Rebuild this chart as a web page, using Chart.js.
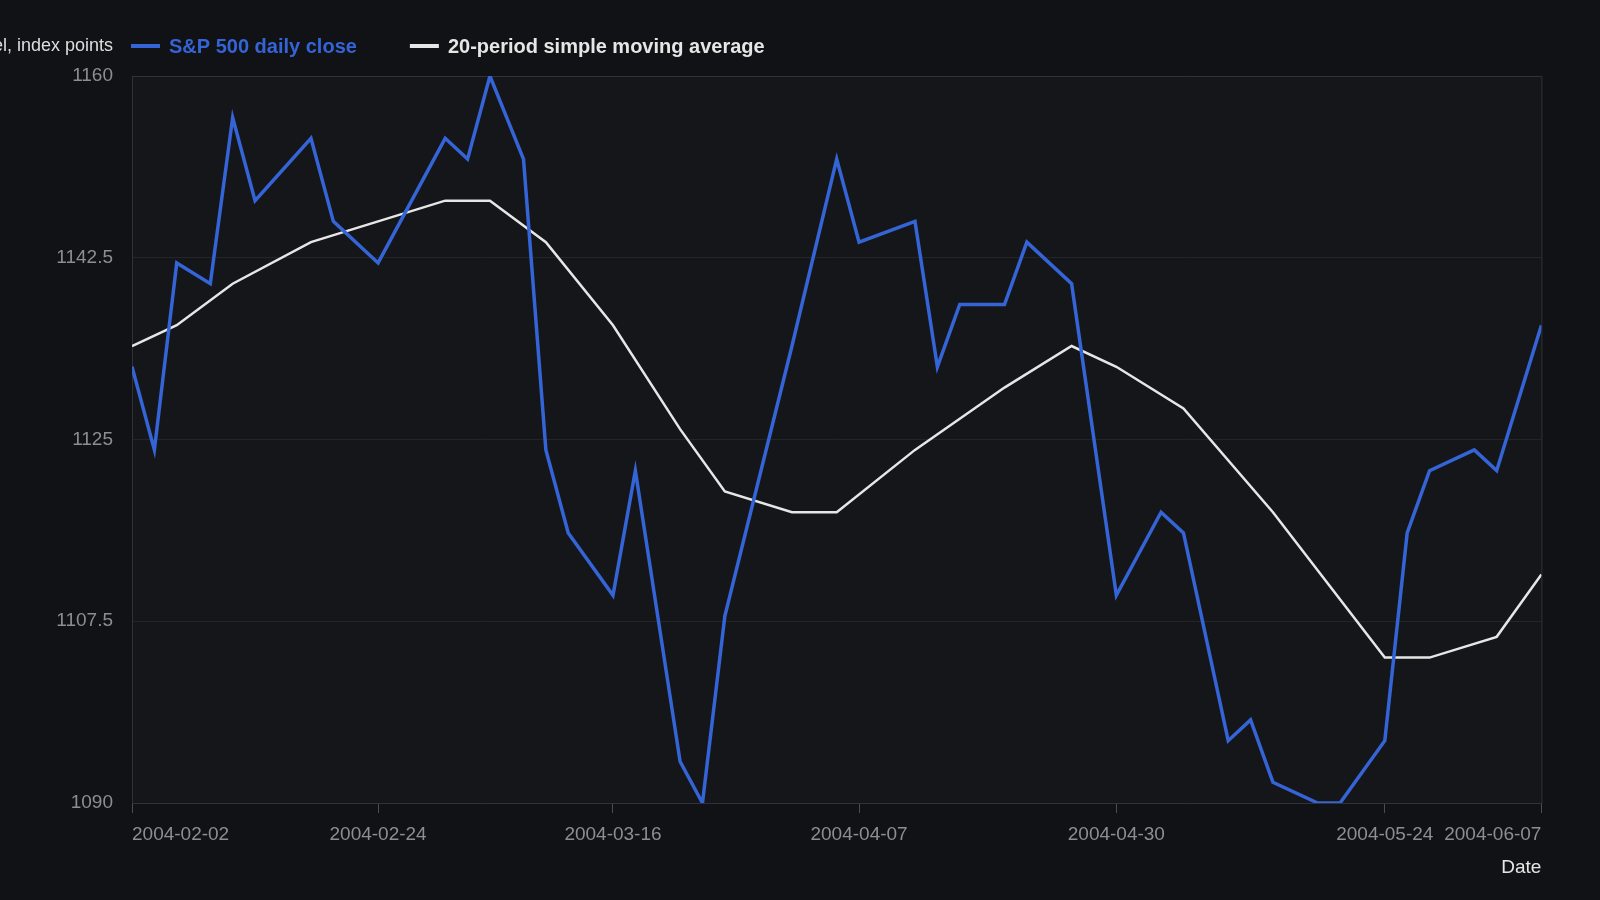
<!DOCTYPE html>
<html>
<head>
<meta charset="utf-8">
<style>
  html, body { margin: 0; padding: 0; background: #111215; }
  #wrap { width: 1600px; height: 900px; position: relative; }
</style>
<script src="https://cdn.jsdelivr.net/npm/chart.js@4.4.1/dist/chart.umd.min.js"></script>
</head>
<body>
<div id="wrap"><canvas id="c" width="1600" height="900"></canvas></div>
<script>
// ---- data ----
const closeDates = [
  '2004-02-02','2004-02-04','2004-02-06','2004-02-09','2004-02-11','2004-02-13',
  '2004-02-18','2004-02-20','2004-02-24','2004-03-01','2004-03-03','2004-03-05',
  '2004-03-08','2004-03-10','2004-03-12','2004-03-16','2004-03-18','2004-03-22',
  '2004-03-24','2004-03-26','2004-04-01','2004-04-05','2004-04-07','2004-04-12',
  '2004-04-14','2004-04-16','2004-04-20','2004-04-22','2004-04-26','2004-04-30',
  '2004-05-04','2004-05-06','2004-05-10','2004-05-12','2004-05-14','2004-05-18',
  '2004-05-20','2004-05-24','2004-05-26','2004-05-28','2004-06-01','2004-06-03',
  '2004-06-07'
];
const closeValues = [
  1132, 1124, 1142, 1140, 1156, 1148,
  1154, 1146, 1142, 1154, 1152, 1160,
  1152, 1124, 1116, 1110, 1122, 1094,
  1090, 1108, 1134, 1152, 1144, 1146,
  1132, 1138, 1138, 1144, 1140, 1110,
  1118, 1116, 1096, 1098, 1092, 1090,
  1090, 1096, 1116, 1122, 1124, 1122,
  1136
];
const smaDates = [
  '2004-02-02','2004-02-06','2004-02-11','2004-02-18','2004-02-24','2004-03-01',
  '2004-03-05','2004-03-10','2004-03-16','2004-03-22','2004-03-26','2004-04-01',
  '2004-04-05','2004-04-12','2004-04-20','2004-04-26','2004-04-30','2004-05-06',
  '2004-05-14','2004-05-24','2004-05-28','2004-06-03','2004-06-07'
];
const smaValues = [
  1134, 1136, 1140, 1144, 1146, 1148,
  1148, 1144, 1136, 1126, 1120, 1118,
  1118, 1124, 1130, 1134, 1132, 1128,
  1118, 1104, 1104, 1106, 1112
];
const xTickLabels = ['2004-02-02','2004-02-24','2004-03-16','2004-04-07','2004-04-30','2004-05-24','2004-06-07'];
const yTickValues = [1090, 1107.5, 1125, 1142.5, 1160];
const seriesNames = ['S&P 500 daily close', '20-period simple moving average'];
const yAxisTitle = 'S&P 500 level, index points';
const xAxisTitle = 'Date';

// ---- styling ----
const FONT = '"Liberation Sans", Arial, Helvetica, sans-serif';
const BG = '#111215';
const PLOT_BG = '#15161a';
const FRAME = '#303237';
const GRID = '#232529';
const TICK_TEXT = '#8b8e95';
const BLUE = '#3464d6';
const WHITE = '#e6e6e6';

const toXY = (dates, vals) => dates.map((d, i) => ({ x: Date.parse(d), y: vals[i] }));

const decorPlugin = {
  id: 'decor',
  beforeDraw(chart) {
    const { ctx, chartArea: a } = chart;
    ctx.save();
    ctx.fillStyle = BG;
    ctx.fillRect(0, 0, chart.width, chart.height);
    ctx.fillStyle = PLOT_BG;
    ctx.fillRect(a.left, a.top, a.right - a.left, a.bottom - a.top);
    ctx.restore();
    // first x label starts at its tick, last ends at its tick
    const items = chart.scales.x.getLabelItems();
    if (items.length) {
      const f = items[0], l = items[items.length - 1];
      if (f.options) f.options.textAlign = 'left'; else f.textAlign = 'left';
      if (l.options) l.options.textAlign = 'right'; else l.textAlign = 'right';
    }
  },
  beforeDatasetsDraw(chart) {
    const { ctx, chartArea: a } = chart;
    ctx.save();
    ctx.strokeStyle = FRAME;
    ctx.lineWidth = 1;
    ctx.beginPath();
    ctx.moveTo(a.left, a.top + 0.5);
    ctx.lineTo(a.right + 0.5, a.top + 0.5);
    ctx.lineTo(a.right + 0.5, a.bottom);
    ctx.stroke();
    ctx.restore();
  },
  afterDraw(chart) {
    const { ctx } = chart;
    ctx.save();
    // y axis title, placed top-left
    ctx.font = '18px ' + FONT;
    ctx.fillStyle = '#dedede';
    ctx.textAlign = 'right';
    ctx.textBaseline = 'alphabetic';
    ctx.fillText(yAxisTitle, 113, 51);
    // legend
    let x = 131;
    const y = 46;
    ctx.font = 'bold 20px ' + FONT;
    ctx.textAlign = 'left';
    chart.data.datasets.forEach((ds) => {
      ctx.strokeStyle = ds.borderColor;
      ctx.lineWidth = 4;
      ctx.beginPath();
      ctx.moveTo(x, y);
      ctx.lineTo(x + 29, y);
      ctx.stroke();
      ctx.fillStyle = ds.borderColor;
      ctx.fillText(ds.label, x + 38, 53);
      x += 38 + ctx.measureText(ds.label).width + 53;
    });
    ctx.restore();
  }
};

new Chart(document.getElementById('c'), {
  type: 'line',
  data: {
    datasets: [
      {
        label: seriesNames[0],
        data: toXY(closeDates, closeValues),
        borderColor: BLUE,
        borderWidth: 3.5,
        pointRadius: 0,
        tension: 0,
        borderJoinStyle: 'miter',
        fill: false
      },
      {
        label: seriesNames[1],
        data: toXY(smaDates, smaValues),
        borderColor: WHITE,
        borderWidth: 2.5,
        pointRadius: 0,
        tension: 0,
        borderJoinStyle: 'miter',
        fill: false
      }
    ]
  },
  options: {
    responsive: false,
    animation: false,
    devicePixelRatio: 1,
    layout: { padding: { top: 76, right: 56, bottom: 0, left: 0 } },
    plugins: {
      legend: { display: false },
      tooltip: { enabled: false }
    },
    scales: {
      x: {
        type: 'linear',
        min: Date.parse(closeDates[0]),
        max: Date.parse(closeDates[closeDates.length - 1]),
        afterBuildTicks: (s) => { s.ticks = xTickLabels.map(d => ({ value: Date.parse(d) })); },
        afterFit: (s) => { s.height = 97; },
        ticks: {
          autoSkip: false,
          maxRotation: 0,
          padding: 10,
          color: TICK_TEXT,
          font: { family: FONT, size: 19 },
          callback: (v) => new Date(v).toISOString().slice(0, 10)
        },
        grid: {
          drawOnChartArea: false,
          drawTicks: true,
          tickLength: 10,
          tickColor: '#4a4c52',
          color: '#4a4c52'
        },
        border: { display: true, color: FRAME, width: 1 },
        title: {
          display: true,
          text: xAxisTitle,
          align: 'end',
          color: '#e6e6e6',
          font: { family: FONT, size: 19 },
          padding: { top: 0, bottom: 21 }
        }
      },
      y: {
        type: 'linear',
        min: yTickValues[0],
        max: yTickValues[yTickValues.length - 1],
        afterBuildTicks: (s) => { s.ticks = yTickValues.map(v => ({ value: v })); },
        afterFit: (s) => { s.width = 132; },
        ticks: {
          padding: 19,
          color: TICK_TEXT,
          font: { family: FONT, size: 19 },
          callback: (v) => String(v)
        },
        grid: {
          color: GRID,
          drawTicks: false,
          lineWidth: 1
        },
        border: { display: true, color: FRAME, width: 1 }
      }
    }
  },
  plugins: [decorPlugin]
});
</script>
</body>
</html>
